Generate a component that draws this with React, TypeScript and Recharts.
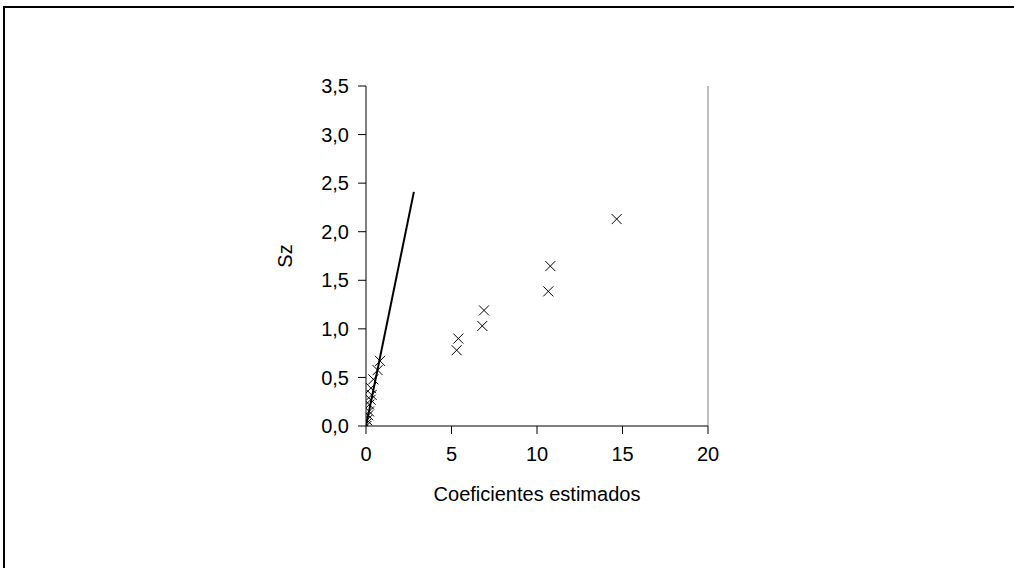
import React from "react";
import {
  ScatterChart,
  Scatter,
  XAxis,
  YAxis,
  ReferenceLine,
  Label,
} from "recharts";

// Estimated coefficients (x) against Sz (y): points near the origin
const clusterX = [0.0, 0.02, 0.06, 0.13, 0.18, 0.19, 0.27, 0.33, 0.29, 0.43, 0.68, 0.82];
const clusterY = [0.02, 0.0, 0.06, 0.11, 0.15, 0.22, 0.27, 0.32, 0.39, 0.48, 0.575, 0.67];

// Points further out along the x axis
const spreadX = [5.3, 5.4, 6.8, 6.9, 10.66, 10.78, 14.66];
const spreadY = [0.78, 0.9, 1.03, 1.19, 1.386, 1.646, 2.13];

// Reference line through the origin
const lineX = [0, 2.8];
const lineY = [0, 2.41];

const xTicks = [0, 5, 10, 15, 20];
const yTicks = [0, 0.5, 1, 1.5, 2, 2.5, 3, 3.5];

const FONT = '"Liberation Sans", Arial, sans-serif';

const points = [
  ...clusterX.map((x, i) => ({ x, y: clusterY[i] })),
  ...spreadX.map((x, i) => ({ x, y: spreadY[i] })),
];
const linePoints = lineX.map((x, i) => ({ x, y: lineY[i] }));

const Cross = (props: any) => {
  const { cx, cy } = props;
  if (cx == null || cy == null) return null;
  const h = 5;
  return (
    <path
      d={`M${cx - h},${cy - h}L${cx + h},${cy + h}M${cx - h},${cy + h}L${cx + h},${cy - h}`}
      stroke="#000"
      strokeWidth={1}
      fill="none"
    />
  );
};

const NoDot = () => null;

const comma = (v: number) => v.toFixed(1).replace(".", ",");

export default function App() {
  return (
    <div
      style={{
        position: "absolute",
        left: 0,
        top: 0,
        width: 1014,
        height: 568,
        overflow: "hidden",
        background: "#fff",
      }}
    >
      <div
        style={{
          position: "absolute",
          left: 3,
          top: 6,
          width: 1100,
          height: 700,
          borderLeft: "2px solid #000",
          borderTop: "2px solid #000",
          pointerEvents: "none",
        }}
      />
      <ScatterChart
        width={1014}
        height={568}
        margin={{ top: 86, right: 306, bottom: 112, left: 306 }}
        style={{ fontFamily: FONT }}
      >
        <XAxis
          type="number"
          dataKey="x"
          domain={[0, 20]}
          ticks={xTicks}
          height={30}
          tickSize={8}
          tickMargin={13}
          stroke="#000"
          tick={{ fill: "#000", fontSize: 20, fontFamily: FONT }}
          allowDataOverflow
        >
          <Label
            content={(p: any) => {
              const vb = p.viewBox;
              return (
                <text
                  x={vb.x + vb.width / 2}
                  y={vb.y + 75}
                  textAnchor="middle"
                  fontSize={20}
                  fontFamily={FONT}
                  fill="#000"
                >
                  Coeficientes estimados
                </text>
              );
            }}
          />
        </XAxis>
        <YAxis
          type="number"
          dataKey="y"
          domain={[0, 3.5]}
          ticks={yTicks}
          width={60}
          tickSize={8}
          tickMargin={9}
          tickFormatter={comma}
          stroke="#000"
          tick={{ fill: "#000", fontSize: 20, fontFamily: FONT }}
          allowDataOverflow
        >
          <Label
            content={(p: any) => {
              const vb = p.viewBox;
              const cy = vb.y + vb.height / 2;
              const cx = 285;
              return (
                <text
                  x={cx}
                  y={cy}
                  textAnchor="middle"
                  dominantBaseline="central"
                  transform={`rotate(-90, ${cx}, ${cy})`}
                  fontSize={20}
                  fontFamily={FONT}
                  fill="#000"
                >
                  Sz
                </text>
              );
            }}
          />
        </YAxis>
        <ReferenceLine x={20} stroke="#808080" strokeWidth={1} />
        <Scatter
          data={linePoints}
          line={{ stroke: "#000", strokeWidth: 2 }}
          shape={NoDot}
          isAnimationActive={false}
        />
        <Scatter data={points} shape={Cross} isAnimationActive={false} />
      </ScatterChart>
    </div>
  );
}
